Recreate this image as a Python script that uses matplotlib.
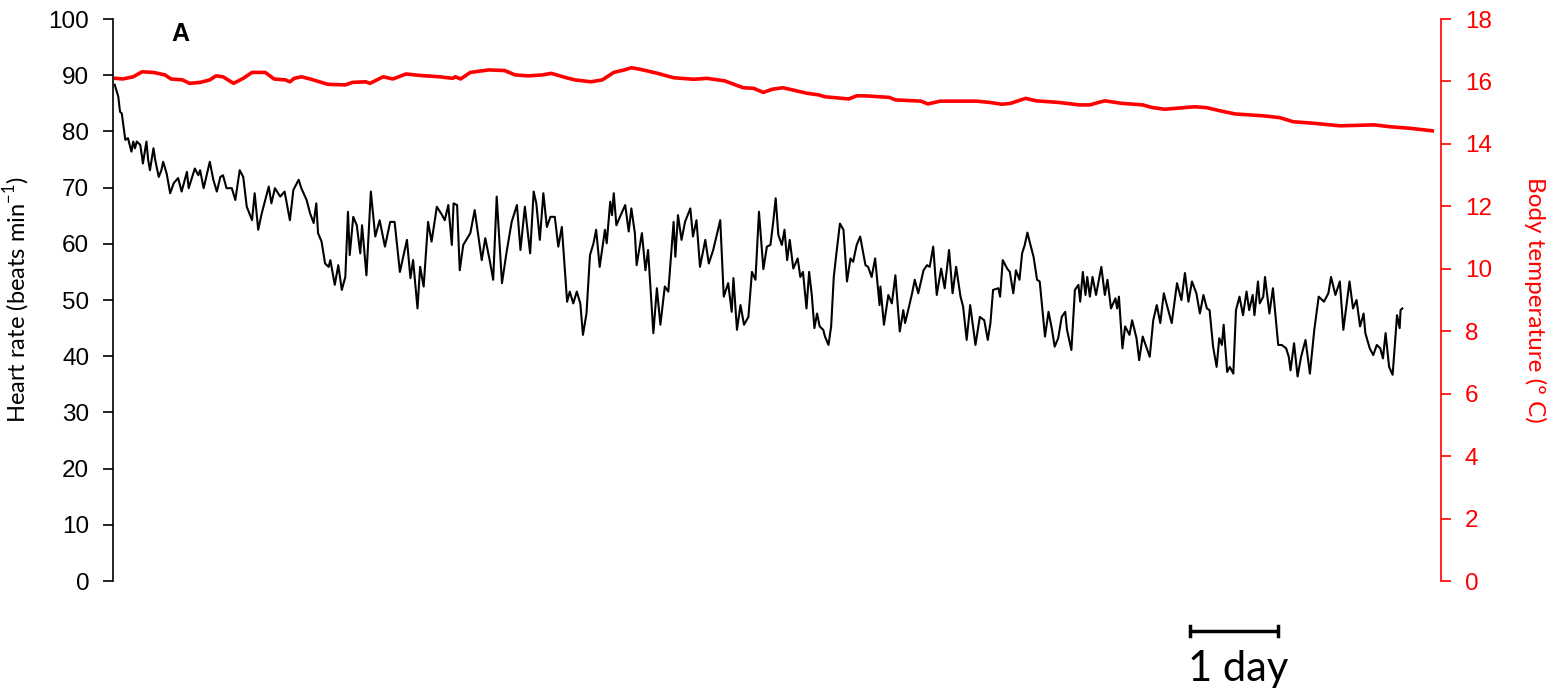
import matplotlib
matplotlib.use("Agg")
import matplotlib.pyplot as plt

plt.rcParams["mathtext.fontset"] = "custom"
plt.rcParams["mathtext.rm"] = "Lato"

# ── heart rate record (time in days, beats per minute) ────────────────────
hr_days = [
    0.02, 0.06, 0.08, 0.10, 0.12, 0.14, 0.17, 0.19, 0.21, 0.23, 0.25, 0.27, 0.31, 0.33, 0.34, 0.38,
    0.40, 0.42, 0.46, 0.48, 0.52, 0.55, 0.57, 0.61, 0.65, 0.69, 0.74, 0.78, 0.84, 0.86, 0.93, 0.97,
    0.99, 1.03, 1.10, 1.14, 1.18, 1.22, 1.25, 1.29, 1.35, 1.39, 1.44, 1.48, 1.52, 1.58, 1.61, 1.65,
    1.69, 1.73, 1.77, 1.80, 1.84, 1.90, 1.95, 2.01, 2.05, 2.11, 2.14, 2.20, 2.24, 2.28, 2.31, 2.33,
    2.37, 2.41, 2.45, 2.47, 2.52, 2.56, 2.60, 2.64, 2.67, 2.69, 2.73, 2.77, 2.81, 2.83, 2.88, 2.93,
    2.98, 3.03, 3.09, 3.15, 3.20, 3.26, 3.34, 3.38, 3.41, 3.46, 3.49, 3.53, 3.58, 3.62, 3.68, 3.74,
    3.77, 3.81, 3.85, 3.87, 3.91, 3.94, 3.98, 4.06, 4.11, 4.19, 4.23, 4.28, 4.32, 4.36, 4.42, 4.47,
    4.53, 4.59, 4.63, 4.68, 4.74, 4.78, 4.81, 4.85, 4.89, 4.93, 4.97, 5.02, 5.06, 5.10, 5.16, 5.19,
    5.23, 5.27, 5.31, 5.34, 5.38, 5.42, 5.46, 5.49, 5.53, 5.59, 5.61, 5.65, 5.67, 5.69, 5.72, 5.76,
    5.82, 5.86, 5.89, 5.93, 5.95, 6.01, 6.05, 6.08, 6.14, 6.18, 6.22, 6.27, 6.31, 6.37, 6.39, 6.42,
    6.46, 6.50, 6.56, 6.59, 6.63, 6.67, 6.73, 6.77, 6.82, 6.90, 6.94, 6.99, 7.03, 7.05, 7.09, 7.13,
    7.17, 7.22, 7.26, 7.30, 7.34, 7.39, 7.43, 7.47, 7.50, 7.53, 7.56, 7.60, 7.63, 7.66, 7.69, 7.73,
    7.78, 7.81, 7.84, 7.88, 7.91, 7.94, 7.97, 8.00, 8.03, 8.07, 8.09, 8.13, 8.16, 8.19, 8.22, 8.26,
    8.30, 8.34, 8.38, 8.41, 8.45, 8.49, 8.55, 8.58, 8.62, 8.66, 8.71, 8.72, 8.76, 8.81, 8.85, 8.89,
    8.94, 8.98, 9.00, 9.04, 9.08, 9.11, 9.15, 9.21, 9.25, 9.28, 9.32, 9.36, 9.41, 9.45, 9.50, 9.54,
    9.58, 9.63, 9.66, 9.70, 9.74, 9.80, 9.85, 9.90, 9.94, 9.97, 10.00, 10.06, 10.08, 10.11, 10.16,
    10.19, 10.23, 10.26, 10.30, 10.33, 10.36, 10.39, 10.42, 10.46, 10.50, 10.53, 10.59, 10.63, 10.67,
    10.70, 10.74, 10.78, 10.82, 10.84, 10.89, 10.93, 10.97, 10.99, 11.02, 11.05, 11.07, 11.10, 11.13,
    11.17, 11.23, 11.27, 11.30, 11.34, 11.39, 11.41, 11.43, 11.47, 11.50, 11.55, 11.58, 11.63, 11.66,
    11.70, 11.74, 11.78, 11.82, 11.86, 11.90, 11.94, 11.98, 12.03, 12.09, 12.14, 12.18, 12.22, 12.26,
    12.31, 12.35, 12.39, 12.43, 12.46, 12.50, 12.54, 12.57, 12.60, 12.62, 12.66, 12.69, 12.73, 12.76,
    12.80, 12.84, 12.88, 12.91, 12.95, 12.97, 13.01, 13.03, 13.07, 13.09, 13.14, 13.18, 13.24, 13.28,
    13.33, 13.36, 13.38, 13.42, 13.46, 13.50, 13.55, 13.60, 13.65, 13.70, 13.76, 13.81, 13.84, 13.89,
    13.94, 13.98, 14.05, 14.09, 14.13, 14.17, 14.21, 14.23, 14.28, 14.32, 14.36, 14.40, 14.43, 14.46,
    14.50, 14.54, 14.59, 14.62, 14.63, 14.65,
]
hr_bpm = [
    88.3, 86.2, 83.5, 83.2, 80.8, 78.5, 78.8, 77.6, 76.4, 78.2, 77.0, 78.2, 77.6, 75.5, 74.3, 78.2,
    74.9, 73.1, 77.0, 74.9, 71.9, 73.1, 74.6, 72.5, 69.0, 70.8, 71.7, 69.3, 72.8, 69.9, 73.4, 72.2,
    73.1, 69.9, 74.6, 71.4, 69.3, 71.9, 72.2, 69.9, 69.9, 67.8, 73.1, 71.9, 66.6, 64.2, 69.0, 62.5,
    65.4, 67.8, 70.2, 67.2, 69.9, 68.4, 69.3, 64.2, 69.6, 71.4, 69.9, 67.8, 65.4, 63.7, 67.2, 61.9,
    60.4, 56.5, 55.9, 57.1, 52.7, 56.2, 51.8, 54.1, 65.7, 58.0, 64.8, 63.3, 58.3, 63.3, 54.4, 69.3,
    61.3, 64.2, 59.5, 63.9, 63.9, 55.0, 60.7, 53.9, 57.1, 48.5, 55.9, 52.4, 63.9, 60.4, 66.6, 65.1,
    64.2, 66.9, 59.8, 67.2, 66.9, 55.3, 59.8, 61.9, 66.0, 57.1, 61.0, 57.1, 53.6, 68.4, 53.0, 58.3,
    63.9, 66.9, 58.9, 66.6, 58.3, 69.3, 67.2, 60.7, 69.0, 63.0, 64.8, 64.8, 59.5, 63.0, 49.7, 51.5,
    49.4, 51.5, 49.4, 43.8, 47.6, 58.0, 60.1, 62.5, 55.9, 62.5, 60.1, 67.5, 65.1, 69.0, 63.3, 64.8,
    66.9, 62.2, 66.3, 61.9, 56.2, 61.9, 55.3, 58.9, 44.1, 52.1, 45.6, 52.4, 51.5, 63.9, 57.7, 65.1,
    60.7, 63.9, 66.3, 61.3, 64.2, 55.9, 60.7, 56.5, 58.9, 64.2, 50.6, 53.0, 47.9, 53.9, 44.7, 49.1,
    45.6, 47.0, 55.0, 53.6, 65.7, 55.5, 59.5, 59.8, 63.6, 68.1, 61.6, 59.8, 62.5, 57.1, 60.7, 55.6,
    57.4, 54.1, 55.0, 48.5, 55.0, 50.9, 45.0, 47.6, 45.3, 44.7, 43.5, 42.0, 45.3, 54.1, 58.3, 63.6,
    62.5, 53.3, 57.4, 56.8, 59.8, 61.3, 56.2, 55.9, 54.1, 57.4, 49.1, 52.4, 45.6, 50.9, 49.4, 54.4,
    44.4, 48.2, 45.9, 48.5, 51.2, 53.6, 51.2, 55.3, 56.2, 55.9, 59.5, 50.9, 55.6, 52.1, 58.9, 51.2,
    55.9, 50.6, 48.8, 42.9, 49.1, 42.0, 47.0, 46.4, 42.9, 45.9, 51.8, 52.1, 50.6, 57.1, 55.6,
    55.0, 51.2, 55.3, 53.6, 58.3, 59.8, 62.0, 60.1, 57.7, 53.6, 53.3, 43.5, 47.9, 44.7,
    41.7, 43.2, 47.0, 47.9, 44.7, 41.1, 51.8, 52.7, 49.7, 55.0, 50.9, 54.1, 50.6, 54.1,
    50.9, 55.9, 50.9, 53.6, 48.5, 50.3, 48.5, 50.6, 41.4, 45.3, 43.8, 46.4, 43.2, 39.3,
    43.5, 41.7, 39.9, 46.4, 49.1, 45.9, 51.2, 48.8, 45.9, 53.0, 50.0, 54.8, 49.7, 53.3,
    51.2, 47.6, 50.9, 48.5, 48.2, 41.7, 38.1, 43.2, 42.0, 45.6, 37.2, 38.1, 36.9, 48.2,
    50.6, 47.3, 51.5, 48.2, 50.9, 47.3, 53.3, 49.4, 50.6, 54.1, 47.6, 52.1, 42.0, 42.0,
    41.4, 39.9, 37.5, 42.3, 36.4, 39.9, 42.9, 36.9, 44.7, 50.6, 49.7, 51.2, 54.1, 50.9,
    53.3, 44.7, 53.3, 48.5, 50.0, 45.3, 47.6, 44.1, 41.4, 40.2, 42.0, 41.4, 39.6, 44.1,
    38.1, 36.7, 47.3, 45.0, 48.2, 48.5,
]

# ── body temperature record (time in days, degrees C) ─────────────────────
temp_days = [
    0.03, 0.11, 0.23, 0.33, 0.46, 0.59, 0.66, 0.79, 0.87, 0.99, 1.10, 1.17, 1.25, 1.37, 1.48, 1.58,
    1.73, 1.83, 1.96, 2.01, 2.06, 2.14, 2.24, 2.44, 2.64, 2.72, 2.87, 2.92, 3.07, 3.18, 3.33, 3.50,
    3.71, 3.86, 3.89, 3.95, 4.06, 4.27, 4.45, 4.57, 4.72, 4.88, 4.98, 5.15, 5.25, 5.43, 5.56, 5.69,
    5.81, 5.89, 5.99, 6.19, 6.37, 6.60, 6.75, 6.95, 7.16, 7.28, 7.39, 7.49, 7.61,
    7.72, 7.89, 8.02, 8.09, 8.36, 8.45, 8.55, 8.82, 8.89, 9.18, 9.26, 9.40, 9.81, 9.96, 10.10,
    10.20, 10.37, 10.49, 10.74, 10.98, 11.10, 11.20, 11.27, 11.46, 11.70, 11.80, 11.95, 12.29,
    12.43, 12.58, 12.75, 13.07, 13.26, 13.41, 13.65, 13.94, 14.33, 14.51, 14.74, 14.99,
]
temp_c = [
    16.10, 16.08, 16.15, 16.31, 16.29, 16.21, 16.08, 16.05, 15.94, 15.97, 16.05, 16.18, 16.15, 15.94,
    16.10, 16.29, 16.29, 16.08, 16.05, 15.99, 16.10, 16.15, 16.08, 15.91, 15.89, 15.97, 15.99, 15.94,
    16.15, 16.08, 16.24, 16.19, 16.15, 16.10, 16.15, 16.08, 16.29, 16.37, 16.35, 16.21, 16.18, 16.21,
    16.26, 16.12, 16.05, 15.99, 16.05, 16.29, 16.37, 16.44, 16.39, 16.26, 16.12, 16.07, 16.10, 16.02,
    15.80, 15.78, 15.65, 15.75, 15.80,
    15.73, 15.62, 15.57, 15.51, 15.44, 15.54, 15.54, 15.49, 15.41, 15.37, 15.28, 15.37, 15.37, 15.33,
    15.27, 15.30, 15.46, 15.38, 15.33, 15.25, 15.25, 15.33, 15.38, 15.30, 15.25, 15.17, 15.11, 15.19,
    15.16, 15.06, 14.96, 14.90, 14.84, 14.71, 14.66, 14.58, 14.61, 14.55, 14.50, 14.42,
]

hr_ticks = list(range(0, 101, 10))
temp_ticks = list(range(0, 19, 2))
scale_start, scale_len = 12.24, 1.0

RED = "#FF0000"
TICK_FONT = "Liberation Sans"
TEXT_FONT = "Lato"

fig = plt.figure(figsize=(15.52, 6.92), dpi=100)
ax = fig.add_axes([0.0728, 0.1604, 0.8557, 0.8121])
ax2 = ax.twinx()

# heart rate on the left axis
ax.plot(hr_days, hr_bpm, color="black", linewidth=1.5, zorder=3)
ax.set_xlim(0, 15.09)
ax.set_ylim(0, 100)
ax.set_yticks(hr_ticks)
ax.set_xticks([])
ax.tick_params(axis="y", direction="out", length=7, width=1.2, pad=10, labelsize=17.5)
for lab in ax.get_yticklabels():
    lab.set_fontfamily(TICK_FONT)
for side in ("top", "bottom", "right"):
    ax.spines[side].set_visible(False)
ax.spines["left"].set_linewidth(1.2)
ax.set_ylabel("Heart rate (beats min$^{\\mathregular{-1}}$)", fontsize=17, fontfamily=TEXT_FONT)
ax.yaxis.set_label_coords(-0.0612, 0.5)

# body temperature on the right axis
ax2.plot(temp_days, temp_c, color=RED, linewidth=2.6, zorder=3)
ax2.set_ylim(0, 18)
ax2.set_yticks(temp_ticks)
ax2.tick_params(axis="y", direction="out", length=7, width=1.2, pad=10,
                labelsize=17.5, colors=RED)
for lab in ax2.get_yticklabels():
    lab.set_fontfamily(TICK_FONT)
for side in ("top", "bottom", "left"):
    ax2.spines[side].set_visible(False)
ax2.spines["right"].set_color(RED)
ax2.spines["right"].set_linewidth(1.2)
ax2.set_ylabel("Body temperature (º C)", fontsize=17.5, fontfamily=TEXT_FONT, color=RED,
               rotation=270, va="center")
ax2.yaxis.set_label_coords(1.0711, 0.5)

# panel letter
ax.text(0.0505, 0.973, "A", transform=ax.transAxes, fontsize=18, fontweight="bold",
        fontfamily=TICK_FONT, ha="center", va="center")

# 1-day scale bar under the trace
bar_y, cap = -8.9, 0.9
ax.plot([scale_start, scale_start + scale_len], [bar_y, bar_y], color="black",
        linewidth=2.5, clip_on=False, solid_capstyle="butt")
for xc in (scale_start, scale_start + scale_len):
    ax.plot([xc, xc], [bar_y - cap, bar_y + cap], color="black", linewidth=2.5, clip_on=False)
ax.text(scale_start + scale_len / 2 + 0.05, -15.6, "1 day", fontsize=30, fontfamily=TEXT_FONT,
        ha="center", va="center", clip_on=False)

fig.savefig("out.png", dpi=100)
